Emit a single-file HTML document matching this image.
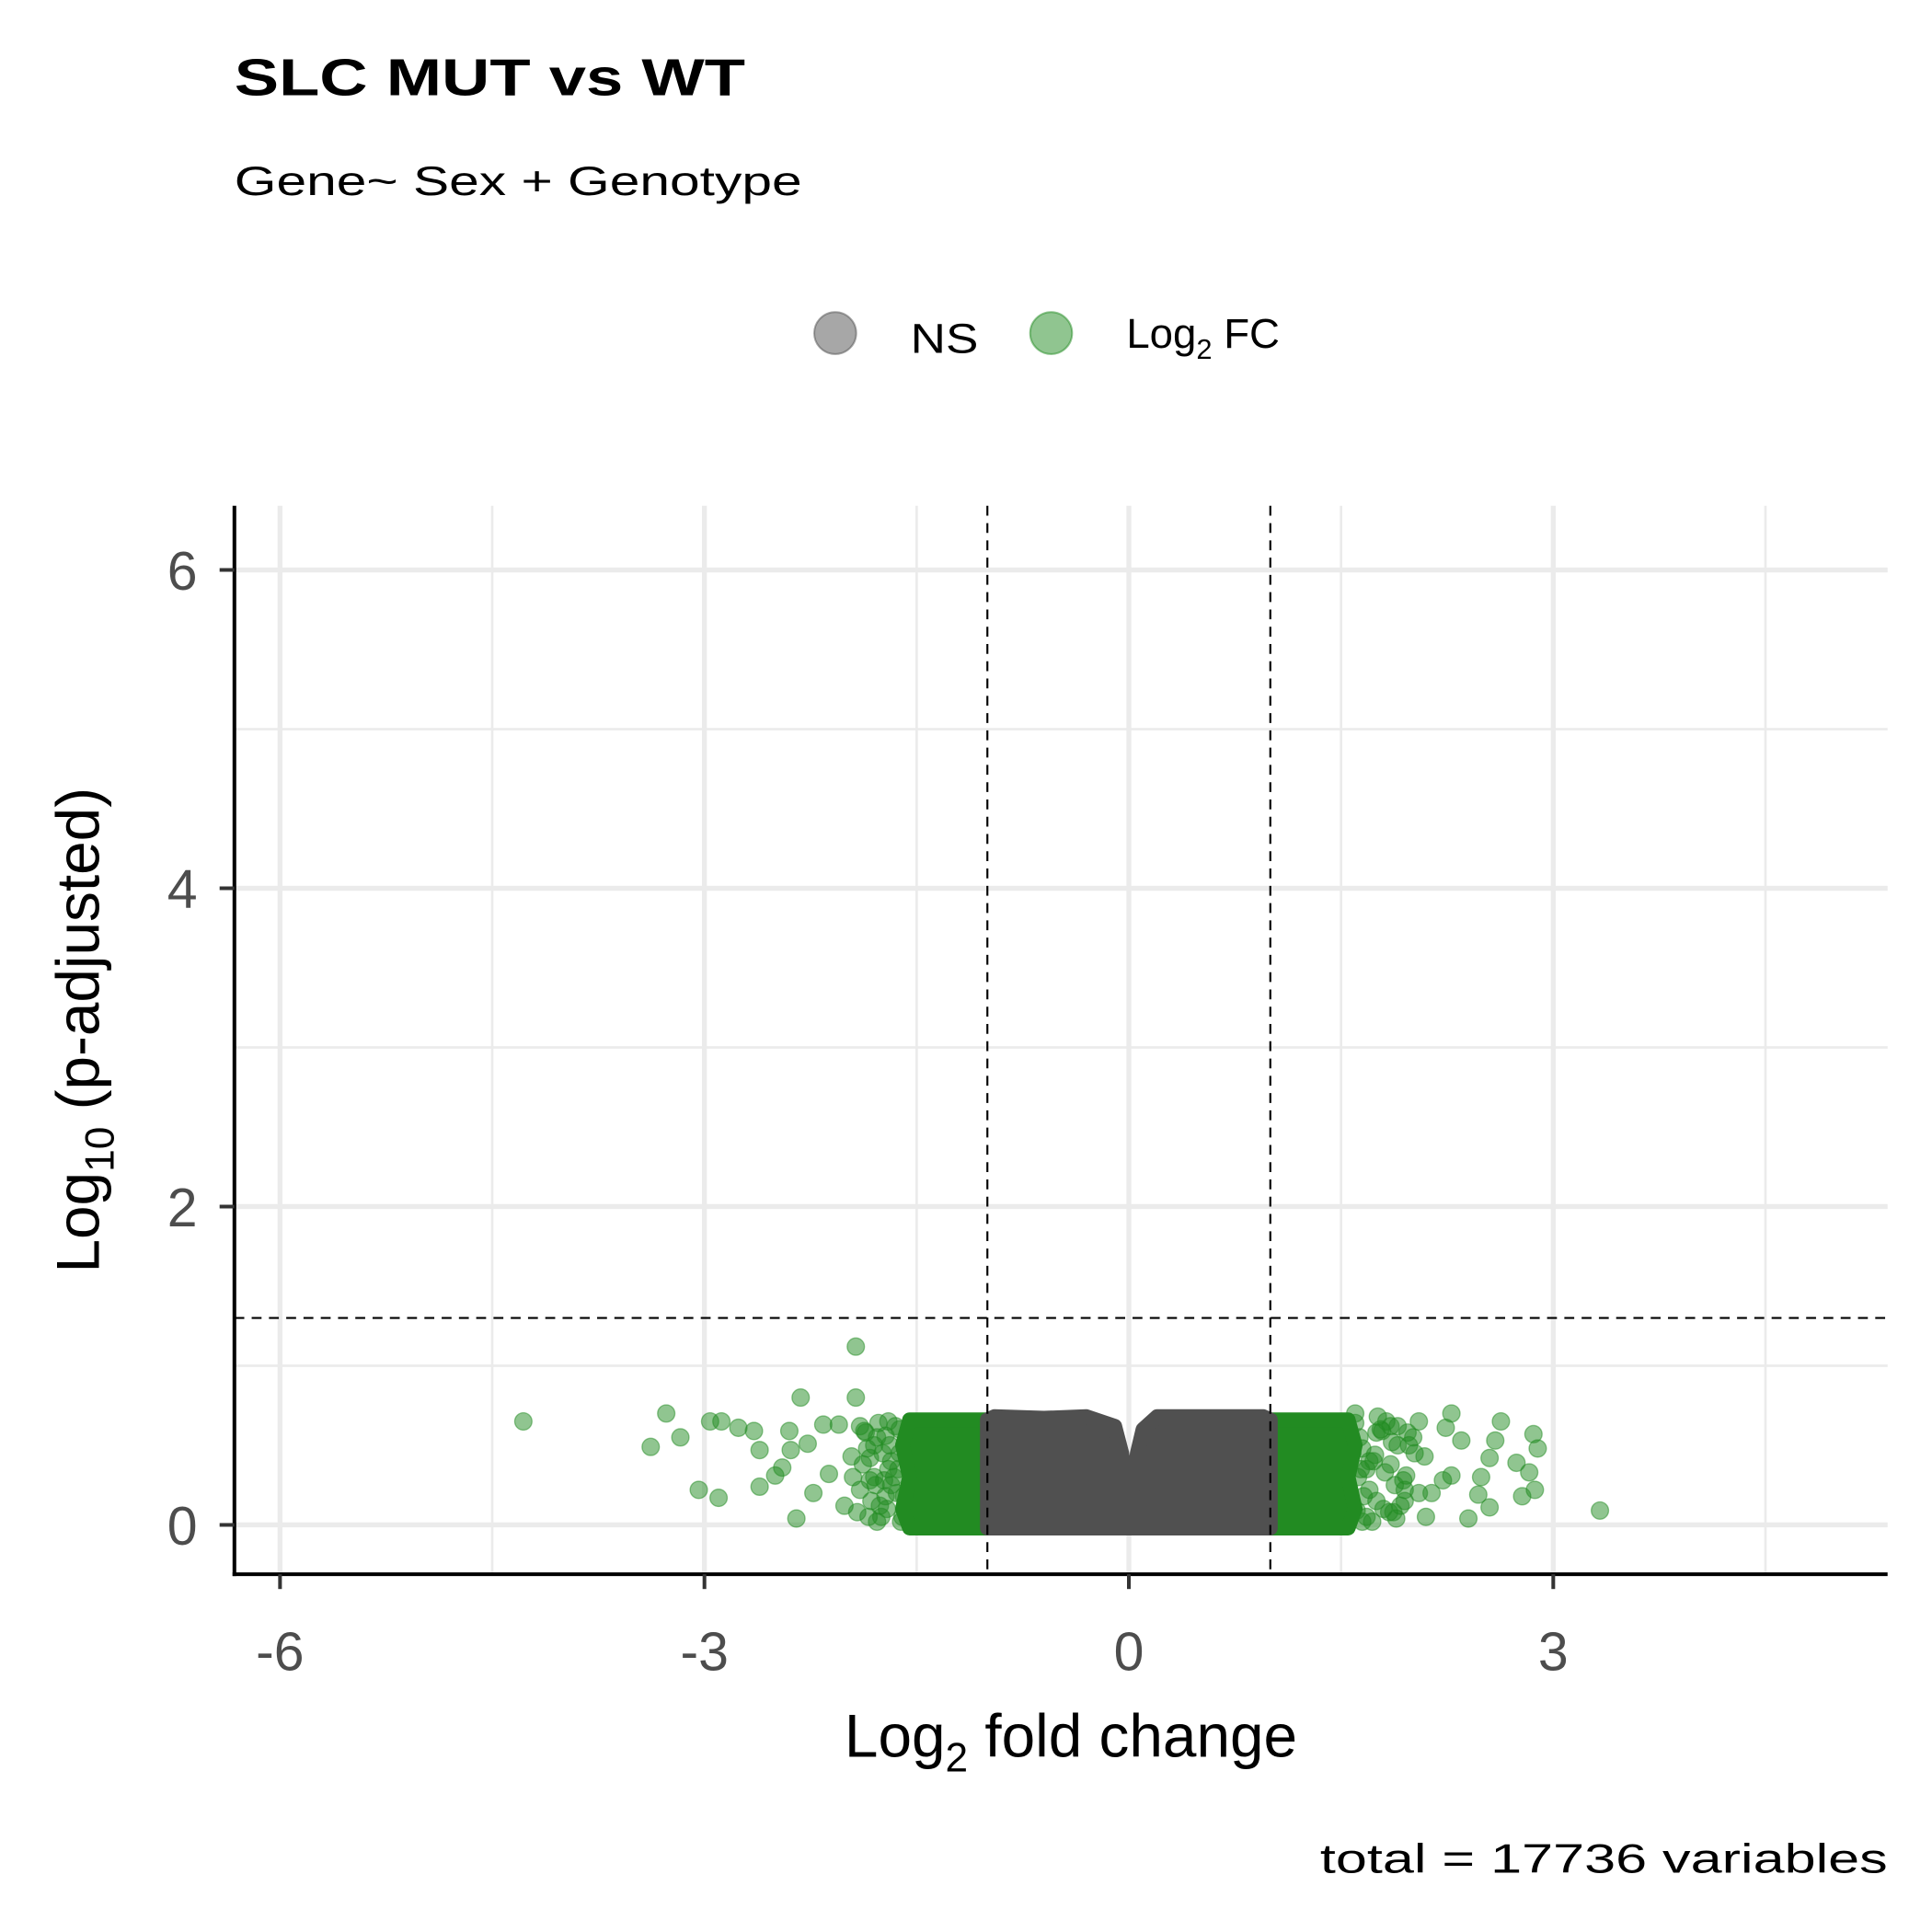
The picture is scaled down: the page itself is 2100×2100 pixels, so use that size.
<!DOCTYPE html>
<html><head><meta charset="utf-8">
<style>
html,body{margin:0;padding:0;background:#fff;}
svg{display:block;font-family:"Liberation Sans","DejaVu Sans",sans-serif;}
</style></head>
<body>
<svg id="chart" width="2100" height="2100" viewBox="0 0 1566 1566" xmlns="http://www.w3.org/2000/svg">
<rect width="1566" height="1566" fill="#fff"/>
<text x="190" y="77" font-size="42" font-weight="bold" fill="#000" textLength="414" lengthAdjust="spacingAndGlyphs">SLC MUT vs WT</text>
<text x="190" y="158" font-size="33" fill="#000" textLength="460" lengthAdjust="spacingAndGlyphs">Gene~ Sex + Genotype</text>
<g>
  <g>
    <circle cx="677" cy="270" r="17" fill="#505050" fill-opacity="0.5" stroke="#505050" stroke-opacity="0.5" stroke-width="1.5"/>
    <text x="738" y="286" font-size="34" fill="#000" textLength="55" lengthAdjust="spacingAndGlyphs">NS</text>
  </g>
  <g>
    <circle cx="852" cy="270" r="17" fill="#228B22" fill-opacity="0.5" stroke="#228B22" stroke-opacity="0.5" stroke-width="1.5"/>
    <text x="913" y="282" font-size="34" fill="#000">Log<tspan font-size="23" dy="9">2</tspan><tspan dy="-9"> FC</tspan></text>
  </g>
</g>
<g id="grid"></g>
<g id="marks"></g>
<g id="refs"></g>
<g id="axes"></g>
<text x="868" y="1424" font-size="49" text-anchor="middle" fill="#000">Log<tspan font-size="33" dy="12">2</tspan><tspan dy="-12"> fold change</tspan></text>
<text transform="translate(80,835) rotate(-90)" font-size="49" text-anchor="middle" fill="#000">Log<tspan font-size="33" dy="12">10</tspan><tspan dy="-12"> (p-adjusted)</tspan></text>
<text x="1530" y="1518" font-size="33" text-anchor="end" fill="#000" textLength="460" lengthAdjust="spacingAndGlyphs">total = 17736 variables</text>
</svg>
<script>
const xTicks = [-6, -3, 0, 3];
const xMinor = [-4.5, -1.5, 1.5, 4.5];
const yTicks = [0, 2, 4, 6];
const yMinor = [1, 3, 5];
const fcCut = [-1, 1];
const pCut = [1.3];
const greenX = [-4.28,-3.27,-3.38,-3.17,-3.04,-2.90,-2.96,-2.88,-2.76,-2.65,-2.61,-2.61,-2.50,-2.45,-2.39,-2.40,-2.32,-2.35,-2.23,-2.27,-2.16,-1.93,-1.93,-2.05,-2.12,-2.01,-1.96,-1.87,-1.83,-1.75,-1.70,-1.80,-1.65,-1.72,-1.62,-1.78,-1.68,
 -1.90,-1.85,-1.80,-1.76,-1.72,-1.68,-1.64,-1.60,-1.90,-1.84,-1.78,-1.70,-1.66,-1.58,-1.88,-1.82,-1.74,-1.62,-1.86,-1.79,-1.71,-1.63,-1.92,-1.77,-1.69,-1.59,-1.83,-1.73,-1.61,-1.95,
 3.33,2.86,2.89,2.83,2.78,2.87,2.74,2.63,2.59,2.55,2.49,2.47,2.55,2.40,2.28,2.24,2.35,2.22,2.28,2.14,2.05,2.01,2.09,1.96,1.87,1.60,1.79,1.70,1.61,1.44,1.90,1.75,1.65,1.85,1.95,2.10,1.58,1.68,
 1.60,1.65,1.70,1.75,1.80,1.85,1.90,1.95,1.62,1.68,1.74,1.82,1.88,1.98,1.64,1.72,1.78,1.86,1.92,2.02,1.66,1.76,1.84,1.94,1.63,1.73,1.81,1.89,1.97,2.05];
const greenY = [0.65,0.70,0.49,0.55,0.22,0.17,0.65,0.65,0.61,0.59,0.47,0.24,0.31,0.36,0.47,0.59,0.80,0.04,0.20,0.51,0.63,1.12,0.80,0.63,0.32,0.12,0.43,0.59,0.28,0.05,0.35,0.50,0.62,0.18,0.45,0.02,0.25,
 0.62,0.48,0.30,0.12,0.56,0.40,0.20,0.05,0.22,0.05,0.55,0.65,0.30,0.52,0.38,0.15,0.45,0.60,0.58,0.25,0.10,0.35,0.08,0.64,0.50,0.18,0.42,0.28,0.02,0.30,
 0.09,0.57,0.48,0.33,0.18,0.22,0.39,0.65,0.53,0.42,0.30,0.19,0.11,0.04,0.70,0.61,0.53,0.28,0.31,0.20,0.65,0.55,0.43,0.31,0.08,0.70,0.59,0.40,0.09,0.28,0.50,0.15,0.02,0.62,0.22,0.05,0.45,0.35,
 0.64,0.48,0.22,0.58,0.10,0.38,0.62,0.15,0.30,0.05,0.44,0.65,0.25,0.50,0.35,0.02,0.60,0.52,0.12,0.45,0.18,0.68,0.08,0.28,0.55,0.40,0.33,0.04,0.58,0.20];
// dense region envelopes (data units)
const greenLeftX = [-1.0,-1.55,-1.6,-1.55,-1.6,-1.55,-1.0];
const greenLeftY = [0.66,0.66,0.50,0.30,0.10,-0.02,-0.02];
const greenRightX = [1.0,1.55,1.6,1.55,1.6,1.55,1.0];
const greenRightY = [0.66,0.66,0.50,0.30,0.10,-0.02,-0.02];
const grayX = [-1.0,-0.95,-0.6,-0.3,-0.1,-0.05,-0.02,0.0,0.03,0.06,0.1,0.2,0.5,0.8,0.95,1.0,1.0,-1.0];
const grayY = [0.66,0.68,0.67,0.68,0.62,0.45,0.25,0.12,0.25,0.45,0.60,0.68,0.68,0.68,0.68,0.66,-0.02,-0.02];

const L=190,R=1530,T=410,B=1276;
function sx(v){return 915+v*114.67;}
function sy(v){return 1236-v*129;}
const NS="http://www.w3.org/2000/svg";
function mk(tag,attrs,parent){const e=document.createElementNS(NS,tag);for(const k in attrs)e.setAttribute(k,attrs[k]);parent.appendChild(e);return e;}
const grid=document.getElementById('grid'),marks=document.getElementById('marks'),refs=document.getElementById('refs'),axes=document.getElementById('axes');
xMinor.forEach(v=>{const l=mk('line',{x1:sx(v),x2:sx(v),y1:T,y2:B,stroke:'#ebebeb','stroke-width':2},grid);

});
yMinor.forEach(v=>{const l=mk('line',{x1:L,x2:R,y1:sy(v),y2:sy(v),stroke:'#ebebeb','stroke-width':2},grid);

});
xTicks.forEach(v=>{const l=mk('line',{x1:sx(v),x2:sx(v),y1:T,y2:B,stroke:'#ebebeb','stroke-width':4},grid);

});
yTicks.forEach(v=>{const l=mk('line',{x1:L,x2:R,y1:sy(v),y2:sy(v),stroke:'#ebebeb','stroke-width':4},grid);

});
function poly(xs,ys,fill,op,name){const p=mk('polygon',{points:xs.map((x,i)=>sx(x)+','+sy(ys[i])).join(' '),fill:fill,'fill-opacity':op,stroke:fill,'stroke-width':12,'stroke-linejoin':'round','stroke-opacity':op},marks);

}
greenX.forEach((x,i)=>{const c=mk('circle',{cx:sx(x),cy:sy(greenY[i]),r:7,fill:'#228B22','fill-opacity':0.5,stroke:'#228B22','stroke-opacity':0.5,'stroke-width':1},marks);

});
poly(greenLeftX,greenLeftY,'#228B22',1,'dense-green-left');
poly(greenRightX,greenRightY,'#228B22',1,'dense-green-right');
poly(grayX,grayY,'#505050',1,'dense-ns-points');
fcCut.forEach(v=>{const l=mk('line',{x1:sx(v),x2:sx(v),y1:T,y2:B,stroke:'#000','stroke-width':1.6,'stroke-dasharray':'8,6'},refs);

});
pCut.forEach(v=>{const l=mk('line',{x1:L,x2:R,y1:sy(v),y2:sy(v),stroke:'#000','stroke-width':1.6,'stroke-dasharray':'8,6'},refs);

});
const ya=mk('line',{x1:L,x2:L,y1:T,y2:B+1.5,stroke:'#000','stroke-width':3},axes);


const xa=mk('line',{x1:L-1.5,x2:R,y1:B,y2:B,stroke:'#000','stroke-width':3},axes);


xTicks.forEach(v=>{const t=mk('line',{x1:sx(v),x2:sx(v),y1:B,y2:B+12,stroke:'#333','stroke-width':3},axes);


const tx=mk('text',{x:sx(v),y:1354,'font-size':44,'text-anchor':'middle',fill:'#4d4d4d'},axes);
tx.textContent=String(v);

});
yTicks.forEach(v=>{const t=mk('line',{x1:L-12,x2:L,y1:sy(v),y2:sy(v),stroke:'#333','stroke-width':3},axes);


const tx=mk('text',{x:160,y:sy(v)+16,'font-size':44,'text-anchor':'end',fill:'#4d4d4d'},axes);
tx.textContent=String(v);

});
</script>
</body></html>
